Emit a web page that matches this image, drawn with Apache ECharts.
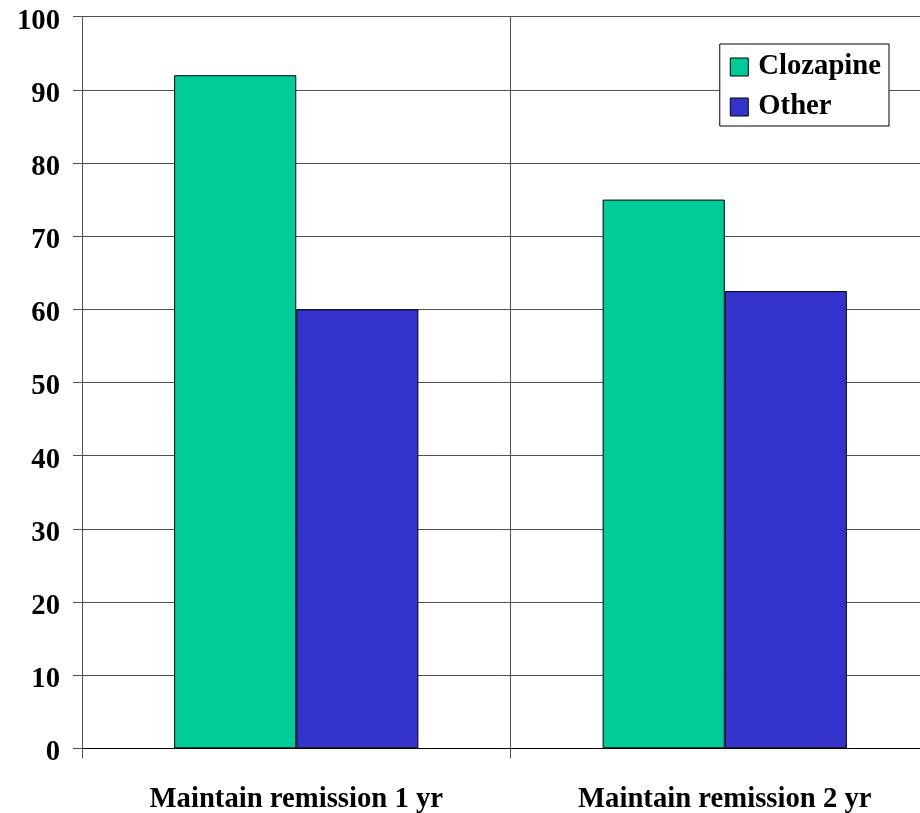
<!DOCTYPE html>
<html>
<head>
<meta charset="utf-8">
<script src="https://cdn.jsdelivr.net/npm/echarts@6/dist/echarts.min.js"></script>
<style>
  html, body { margin: 0; padding: 0; background: #fff; }
  #chart { width: 920px; height: 813px; }
</style>
</head>
<body>
<div id="chart"></div>
<script>
// Remission outcomes by treatment group (%)
const categories = ['Maintain remission 1 yr', 'Maintain remission 2 yr'];
const clozapine = [92, 75];
const other = [60, 62.5];
const seriesNames = ['Clozapine', 'Other'];
const seriesColors = ['#00CC99', '#3333CC'];

const FONT = '"Liberation Serif", "Times New Roman", serif';
const FS = 28.7;
const GRID_COLOR = '#505050';

const chart = echarts.init(document.getElementById('chart'));

chart.setOption({
  animation: false,
  backgroundColor: '#ffffff',
  // plot runs past the right edge of the canvas
  grid: {
    left: 82, width: 857, top: 16.7, bottom: 64.7,
    containLabel: false, outerBoundsMode: 'none'
  },
  legend: {
    orient: 'vertical',
    right: 31,
    top: 44,
    backgroundColor: '#ffffff',
    borderColor: '#000000',
    borderWidth: 1,
    borderRadius: 0,
    padding: [8, 8, 4, 10],
    itemWidth: 18,
    itemHeight: 18,
    itemGap: 10,
    icon: 'rect',
    itemStyle: { borderColor: '#000000', borderWidth: 1 },
    textStyle: {
      fontFamily: FONT, fontSize: FS, fontWeight: 'bold', color: '#000',
      lineHeight: 30, padding: [0, 0, 0, 5]
    },
    data: seriesNames
  },
  xAxis: {
    type: 'category',
    data: categories,
    axisLine: { show: true, lineStyle: { color: '#000000', width: 1 } },
    axisTick: { show: true, length: 10, alignWithLabel: false, lineStyle: { color: GRID_COLOR } },
    splitLine: { show: true, lineStyle: { color: GRID_COLOR, width: 1 } },
    axisLabel: {
      fontFamily: FONT, fontSize: FS, fontWeight: 'bold', color: '#000', margin: 37
    }
  },
  yAxis: {
    type: 'value',
    min: 0,
    max: 100,
    interval: 10,
    axisLine: { show: true, lineStyle: { color: GRID_COLOR, width: 1 } },
    axisTick: { show: true, length: 9, lineStyle: { color: GRID_COLOR } },
    splitLine: { show: true, lineStyle: { color: GRID_COLOR, width: 1 } },
    axisLabel: {
      fontFamily: FONT, fontSize: FS, fontWeight: 'bold', color: '#000', margin: 22,
      verticalAlign: 'top', lineHeight: 9
    }
  },
  series: [
    {
      name: seriesNames[0],
      type: 'bar',
      data: clozapine,
      barGap: '0%',
      barCategoryGap: '43%',
      itemStyle: { color: seriesColors[0], borderColor: '#000000', borderWidth: 1 }
    },
    {
      name: seriesNames[1],
      type: 'bar',
      data: other,
      barGap: '0%',
      barCategoryGap: '43%',
      itemStyle: { color: seriesColors[1], borderColor: '#000000', borderWidth: 1 }
    }
  ]
});
</script>
</body>
</html>
